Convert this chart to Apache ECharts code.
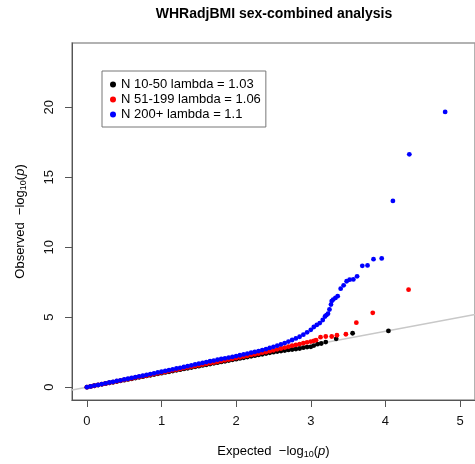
<!DOCTYPE html>
<html>
<head>
<meta charset="utf-8">
<script src="https://cdn.jsdelivr.net/npm/echarts@6/dist/echarts.min.js"></script>
<style>html,body{margin:0;padding:0;background:#fff;}#c{width:475px;height:464px;}</style>
</head>
<body>
<div id="c"></div>
<script>
// ---- data ----
const chartTitle = "WHRadjBMI sex-combined analysis";
const groupNames = ["N 10-50 lambda = 1.03", "N 51-199 lambda = 1.06", "N 200+ lambda = 1.1"];
const groupColors = ["#000000", "#ff0000", "#0000ff"];
const xTicks = [0, 1, 2, 3, 4, 5];
const yTicks = [0, 5, 10, 15, 20];
const xRange = [-0.2, 5.2];
const yRange = [-0.92, 24.6];
const refLineX = [-0.2, 5.2]; // expected = observed line

const blackExp = [0.00,0.05,0.10,0.15,0.20,0.25,0.30,0.35,0.40,0.45,0.50,0.55,0.60,0.65,0.70,0.75,0.80,0.85,0.90,0.95,
  1.00,1.05,1.10,1.15,1.20,1.25,1.30,1.35,1.40,1.45,1.50,1.55,1.60,1.65,1.70,1.75,1.80,1.85,1.90,1.95,
  2.00,2.05,2.10,2.15,2.20,2.25,2.30,2.35,2.40,2.45,2.50,2.55,2.60,2.65,2.70,2.75,2.80,2.85,2.90,2.95,
  3.00,3.04,3.09,3.14,3.20,3.34,3.56,4.04];
const blackObs = [0.00,0.05,0.10,0.15,0.20,0.25,0.30,0.35,0.40,0.45,0.50,0.55,0.60,0.65,0.70,0.75,0.80,0.85,0.90,0.95,
  1.00,1.05,1.10,1.15,1.20,1.25,1.30,1.35,1.40,1.45,1.50,1.55,1.60,1.65,1.70,1.75,1.80,1.85,1.90,1.95,
  2.00,2.05,2.10,2.15,2.20,2.25,2.30,2.35,2.40,2.45,2.50,2.54,2.58,2.62,2.66,2.69,2.72,2.76,2.82,2.86,
  2.88,2.97,3.07,3.12,3.22,3.45,3.85,4.02];

const redExp = [0.00,0.05,0.10,0.15,0.20,0.25,0.30,0.35,0.40,0.45,0.50,0.55,0.60,0.65,0.70,0.75,0.80,0.85,0.90,0.95,
  1.00,1.05,1.10,1.15,1.20,1.25,1.30,1.35,1.40,1.45,1.50,1.55,1.60,1.65,1.70,1.75,1.80,1.85,1.90,1.95,
  2.00,2.05,2.10,2.15,2.20,2.25,2.30,2.35,2.40,2.45,2.50,2.55,2.60,2.65,2.70,2.75,2.80,2.85,2.90,2.95,
  3.00,3.04,3.07,3.13,3.20,3.28,3.35,3.47,3.61,3.83,4.31];
const redObs = [0.00,0.05,0.10,0.16,0.21,0.26,0.31,0.36,0.42,0.47,0.52,0.57,0.62,0.68,0.73,0.78,0.83,0.88,0.94,0.99,
  1.04,1.09,1.15,1.20,1.25,1.30,1.36,1.41,1.46,1.51,1.56,1.61,1.66,1.71,1.76,1.81,1.86,1.92,1.97,2.02,
  2.08,2.13,2.19,2.24,2.30,2.35,2.40,2.46,2.51,2.57,2.63,2.70,2.76,2.83,2.89,2.96,3.02,3.08,3.14,3.20,
  3.26,3.31,3.36,3.57,3.62,3.62,3.71,3.78,4.61,5.31,6.97];

const blueExp = [0.00,0.05,0.10,0.15,0.20,0.25,0.30,0.35,0.40,0.45,0.50,0.55,0.60,0.65,0.70,0.75,0.80,0.85,0.90,0.95,
  1.00,1.05,1.10,1.15,1.20,1.25,1.30,1.35,1.40,1.45,1.50,1.55,1.60,1.65,1.70,1.75,1.80,1.85,1.90,1.95,
  2.00,2.05,2.10,2.15,2.20,2.25,2.30,2.35,2.40,2.45,2.50,2.55,2.60,2.65,2.70,2.75,2.80,2.85,2.90,2.95,
  3.00,3.04,3.08,3.12,3.16,3.19,3.21,3.23,3.25,3.27,3.28,3.30,3.33,3.36,3.40,3.44,3.48,3.52,3.57,3.62,
  3.69,3.76,3.84,3.95,4.10,4.32,4.80];
const blueObs = [0.00,0.05,0.11,0.16,0.22,0.27,0.33,0.38,0.44,0.49,0.55,0.60,0.66,0.71,0.77,0.82,0.88,0.93,0.99,1.05,
  1.10,1.16,1.21,1.27,1.33,1.38,1.44,1.50,1.56,1.62,1.68,1.73,1.79,1.85,1.90,1.96,2.01,2.06,2.11,2.16,
  2.22,2.28,2.34,2.40,2.46,2.52,2.58,2.65,2.72,2.80,2.88,2.96,3.05,3.15,3.26,3.37,3.48,3.60,3.75,3.92,
  4.10,4.30,4.45,4.58,4.80,5.05,5.15,5.25,5.55,5.90,6.15,6.26,6.38,6.50,7.04,7.28,7.57,7.68,7.70,7.92,
  8.67,8.70,9.15,9.20,13.31,16.64,19.67];

// ---- chart ----
const FONT = "Liberation Sans, Arial, Helvetica, sans-serif";
function pairs(xs, ys) { return xs.map((x, i) => [x, ys[i]]); }
const groups = [[blackExp, blackObs], [redExp, redObs], [blueExp, blueObs]];

const chart = echarts.init(document.getElementById('c'), null, {renderer: 'canvas'});
const series = [{
  type: 'line',
  data: refLineX.map(v => [v, v]),
  symbol: 'none',
  lineStyle: {color: '#c8c8c8', width: 1.5},
  silent: true,
  z: 1,
  clip: true
}];
groups.forEach((g, i) => {
  series.push({
    name: groupNames[i],
    type: 'scatter',
    data: pairs(g[0], g[1]),
    symbol: 'circle',
    symbolSize: 4.8,
    itemStyle: {color: groupColors[i], opacity: 1},
    z: 2 + i,
    clip: true
  });
});

const richAxisName = {
  n: {fontFamily: FONT, fontSize: 13, color: '#000'},
  s: {fontFamily: FONT, fontSize: 9, color: '#000', padding: [6, 0, 0, 0]},
  i: {fontFamily: FONT, fontSize: 13, fontStyle: 'italic', color: '#000'}
};

chart.setOption({
  animation: false,
  backgroundColor: '#fff',
  graphic: [{
    type: 'text',
    x: 274, y: 7,
    style: {text: chartTitle, font: 'bold 14px ' + FONT, fill: '#000', textAlign: 'center'}
  }],
  legend: {
    orient: 'vertical',
    left: 102, top: 71,
    padding: [7, 5, 6, 8],
    itemGap: 2,
    itemWidth: 6, itemHeight: 6,
    itemTextGap: 9,
    icon: 'circle',
    borderColor: '#777', borderWidth: 1,
    backgroundColor: '#fff',
    textStyle: {fontFamily: FONT, fontSize: 13, color: '#000'},
    data: groupNames
  },
  grid: {left: 72, top: 43, right: -3, bottom: 61, show: true, borderColor: '#999', borderWidth: 1.5, containLabel: false},
  xAxis: {
    type: 'value', min: xRange[0], max: xRange[1],
    name: '{n|Expected  \u2212log}{s|10}{n|(}{i|p}{n|)}',
    nameLocation: 'middle', nameGap: 44,
    nameTextStyle: {rich: richAxisName},
    axisLine: {show: true, onZero: false, lineStyle: {color: '#555', width: 1}},
    axisTick: {show: true, length: 7, customValues: xTicks, lineStyle: {color: '#555'}},
    axisLabel: {customValues: xTicks, margin: 15, fontFamily: FONT, fontSize: 13, color: '#111'},
    splitLine: {show: false}
  },
  yAxis: {
    type: 'value', min: yRange[0], max: yRange[1],
    name: '{n|Observed  \u2212log}{s|10}{n|(}{i|p}{n|)}',
    nameLocation: 'middle', nameGap: 44, nameRotate: 90,
    nameTextStyle: {rich: richAxisName},
    axisLine: {show: true, onZero: false, lineStyle: {color: '#555', width: 1}},
    axisTick: {show: true, length: 7, customValues: yTicks, lineStyle: {color: '#555'}},
    axisLabel: {customValues: yTicks, rotate: 90, margin: 16, fontFamily: FONT, fontSize: 13, color: '#111'},
    splitLine: {show: false}
  },
  series: series
});
</script>
</body>
</html>
